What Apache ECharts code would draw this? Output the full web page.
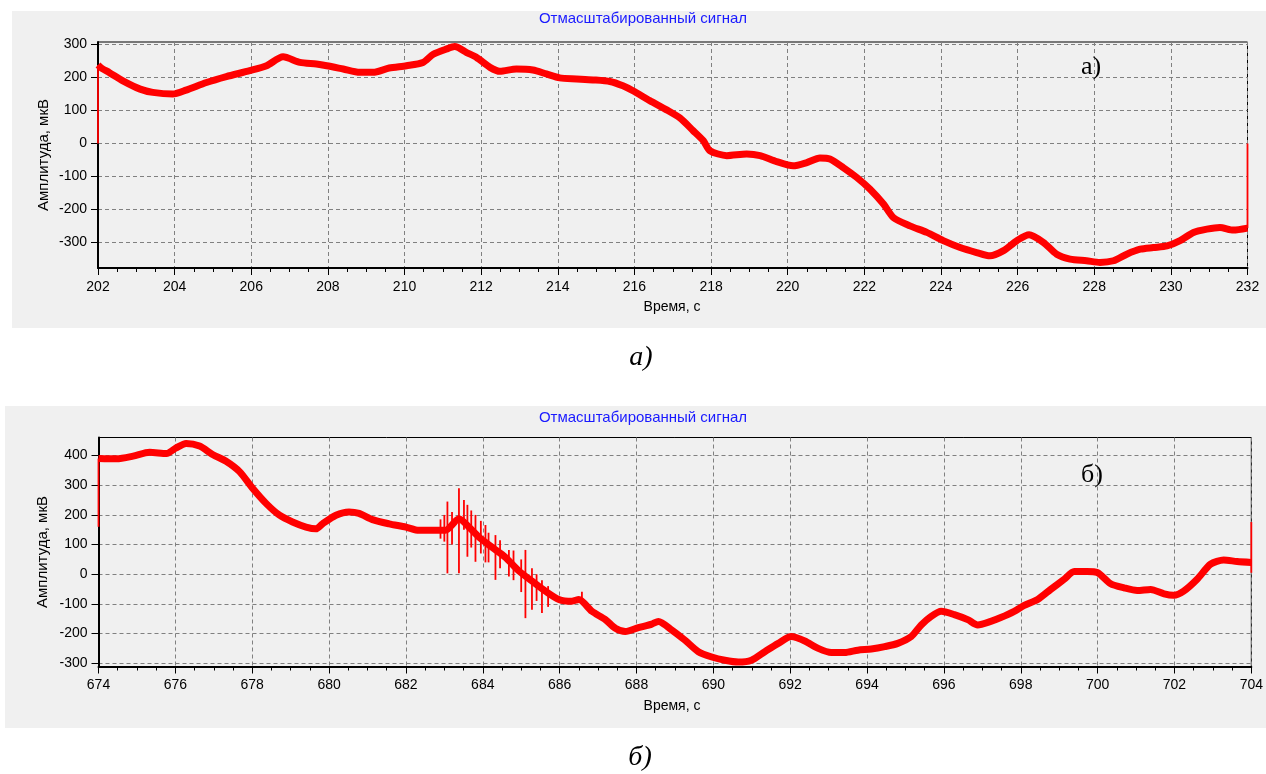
<!DOCTYPE html>
<html><head><meta charset="utf-8">
<script src="https://cdn.jsdelivr.net/npm/echarts@6/dist/echarts.min.js"></script>
<style>html,body{margin:0;padding:0;background:#fff}#c{width:1266px;height:774px}</style>
</head><body><div id="c"></div>
<script>
// ---- Panel a) ----
const timeA = [202, 202.1, 202.3, 202.65, 203.1, 203.43, 203.95, 204.3, 204.83, 205.35, 205.96, 206.4, 206.83, 207.27, 207.7, 207.97, 208.4, 208.83, 209.18, 209.6, 210.05, 210.48, 210.75, 211.1, 211.31, 211.62, 211.88, 212.23, 212.49, 212.92, 213.35, 213.7, 214.05, 214.49, 214.92, 215.36, 215.7, 215.96, 216.4, 216.84, 217.19, 217.53, 217.8, 217.97, 218.41, 218.93, 219.28, 219.71, 220.14, 220.5, 220.84, 221.1, 221.45, 221.8, 222.15, 222.5, 222.76, 223.19, 223.63, 224.06, 224.5, 224.93, 225.28, 225.62, 225.98, 226.3, 226.67, 227.02, 227.37, 227.8, 228.15, 228.5, 228.85, 229.2, 229.54, 229.9, 230.24, 230.59, 230.94, 231.28, 231.63, 232];
const ampA = [238, 228, 215, 190, 165, 155, 150, 162, 185, 203, 221, 236, 263, 246, 241, 236, 226, 216, 216, 229, 236, 246, 271, 287, 294, 276, 261, 231, 219, 226, 223, 211, 199, 196, 193, 188, 175, 160, 130, 102, 77, 39, 8, -22, -37, -32, -37, -55, -68, -58, -44, -47, -73, -103, -139, -184, -225, -250, -270, -295, -316, -331, -341, -326, -295, -277, -300, -336, -351, -356, -361, -356, -336, -321, -316, -311, -295, -270, -260, -255, -263, -257];
// vertical jumps (single-sample transitions at the record edges)
const jumpTimeA = [202, 232];
const jumpLowA = [0, -257];
const jumpHighA = [238, 0];
const yTicksA = [-300, -200, -100, 0, 100, 200, 300];

// ---- Panel б) ----
const timeB = [674, 674.47, 674.9, 675.33, 675.77, 676.02, 676.28, 676.63, 676.98, 677.32, 677.67, 678.01, 678.36, 678.71, 679.05, 679.4, 679.66, 679.83, 680.18, 680.52, 680.78, 681.13, 681.56, 682.0, 682.34, 682.69, 683.03, 683.38, 683.64, 683.9, 684.24, 684.59, 684.94, 685.28, 685.63, 685.98, 686.32, 686.5, 686.84, 687.19, 687.45, 687.71, 688.05, 688.4, 688.57, 688.92, 689.26, 689.61, 689.96, 690.3, 690.65, 690.99, 691.34, 691.69, 692.03, 692.38, 692.73, 693.07, 693.42, 693.76, 694.11, 694.46, 694.8, 695.15, 695.41, 695.67, 695.93, 696.27, 696.62, 696.88, 697.22, 697.48, 697.83, 698.09, 698.44, 698.78, 699.13, 699.39, 699.73, 699.99, 700.34, 700.69, 701.03, 701.38, 701.73, 701.98, 702.24, 702.59, 702.94, 703.28, 703.63, 704];
const ampB = [390, 389, 398, 411, 407, 426, 441, 432, 403, 381, 346, 290, 239, 199, 176, 159, 153, 170, 199, 210, 205, 184, 170, 159, 148, 148, 148, 187, 159, 125, 91, 57, 11, -23, -57, -85, -91, -85, -125, -153, -182, -193, -180, -168, -159, -188, -222, -261, -279, -290, -296, -290, -261, -233, -210, -225, -250, -264, -264, -256, -252, -244, -233, -210, -171, -142, -125, -136, -153, -171, -159, -146, -125, -105, -85, -51, -17, 9, 9, 6, -32, -46, -55, -51, -66, -71, -57, -17, 34, 48, 43, 40];
// impulse spikes and edge jumps: time, lower end, upper end
const jumpTimeB = [674, 682.9, 683.0, 683.08, 683.2, 683.38, 683.51, 683.6, 683.7, 683.81, 683.95, 684.07, 684.15, 684.33, 684.45, 684.68, 684.8, 685.0, 685.11, 685.28, 685.4, 685.54, 685.7, 686.58, 704];
const jumpLowB = [160, 120, 110, 3, 100, 3, 150, 59, 90, 42, 70, 40, 40, -19, 20, -8, -20, -60, -148, -120, -90, -131, -110, -100, 5];
const jumpHighB = [390, 185, 200, 245, 210, 290, 250, 234, 215, 200, 180, 166, 140, 132, 115, 82, 80, 50, 82, 20, 0, -20, -40, -59, 176];
const yTicksB = [-300, -200, -100, 0, 100, 200, 300, 400];

const titleText = 'Отмасштабированный сигнал';
const yName = 'Амплитуда, мкВ';
const xName = 'Время, с';

const zip = (t, v) => t.map((x, i) => [x, v[i]]);
const zip3 = (t, a, b) => t.map((x, i) => [x, a[i], b[i]]);
const FONT = '"Liberation Sans", Arial, sans-serif';
const SERIF = '"Liberation Serif", "Times New Roman", serif';
const RED = '#ff0000';

function xAxis(gi, min, max) {
  return {
    type: 'value', gridIndex: gi, min: min, max: max, interval: 2,
    axisLine: { show: true, onZero: false, lineStyle: { color: '#000', width: 2 } },
    axisTick: { show: true, length: 7, lineStyle: { color: '#000' } },
    minorTick: { show: true, splitNumber: 4, length: 4, lineStyle: { color: '#000' } },
    axisLabel: { color: '#000', fontSize: 14, fontFamily: FONT, margin: 12 },
    splitLine: { show: true, lineStyle: { color: '#808080', type: [4, 3], width: 1 } }
  };
}
function yAxis(gi, min, max, ticks) {
  return {
    type: 'value', gridIndex: gi, min: min, max: max,
    axisLine: { show: true, onZero: false, lineStyle: { color: '#000', width: 2 } },
    axisTick: { show: true, length: 7, customValues: ticks, lineStyle: { color: '#000' } },
    axisLabel: { customValues: ticks, color: '#000', fontSize: 14, fontFamily: FONT, margin: 11 },
    splitLine: { show: true, lineStyle: { color: '#808080', type: [4, 3], width: 1 } }
  };
}
function txt(x, y, text, font, fill, rot) {
  return { type: 'text', x: x, y: y, rotation: rot || 0, z: 10,
    style: { text: text, font: font, fill: fill || '#000', align: 'center', verticalAlign: 'middle' } };
}
function jumps(gi, data) {
  return {
    type: 'custom', xAxisIndex: gi, yAxisIndex: gi, data: data, z: 4, clip: false,
    renderItem: function (params, api) {
      const p1 = api.coord([api.value(0), api.value(1)]);
      const p2 = api.coord([api.value(0), api.value(2)]);
      return { type: 'line', shape: { x1: p1[0], y1: p1[1], x2: p2[0], y2: p2[1] },
        style: { stroke: RED, lineWidth: 1.8 } };
    }
  };
}

const chart = echarts.init(document.getElementById('c'));
chart.setOption({
  animation: false,
  backgroundColor: '#fff',
  grid: [
    { left: 98, top: 42, width: 1149.5, height: 226, show: true, borderColor: '#000', borderWidth: 1, backgroundColor: 'transparent' },
    { left: 98.5, top: 437.5, width: 1156, height: 229, show: true, borderColor: '#000', borderWidth: 1, backgroundColor: 'transparent' }
  ],
  xAxis: [xAxis(0, 202, 232), xAxis(1, 674, 704)],
  yAxis: [yAxis(0, -378, 308, yTicksA), yAxis(1, -311, 461, yTicksB)],
  graphic: [
    { type: 'rect', z: -10, shape: { x: 12, y: 11, width: 1254, height: 317 }, style: { fill: '#f0f0f0' } },
    { type: 'rect', z: -10, shape: { x: 5, y: 406, width: 1261, height: 322 }, style: { fill: '#f0f0f0' } },
    txt(643, 19, titleText, '15px ' + FONT, '#1a1aff'),
    txt(43.5, 155, yName, '15px ' + FONT, '#000', Math.PI / 2),
    txt(672, 307, xName, '14px ' + FONT),
    txt(1091, 67, 'а)', '26px ' + SERIF),
    txt(641, 358, 'а)', 'italic 28px ' + SERIF),
    txt(643, 418, titleText, '15px ' + FONT, '#1a1aff'),
    txt(43, 552, yName, '15px ' + FONT, '#000', Math.PI / 2),
    txt(672, 706, xName, '14px ' + FONT),
    txt(1092, 475, 'б)', '26px ' + SERIF),
    txt(640, 758, 'б)', 'italic 28px ' + SERIF)
  ],
  series: [
    { type: 'line', xAxisIndex: 0, yAxisIndex: 0, data: zip(timeA, ampA), showSymbol: false, smooth: 0.25,
      lineStyle: { color: RED, width: 7 }, z: 3 },
    jumps(0, zip3(jumpTimeA, jumpLowA, jumpHighA)),
    { type: 'line', xAxisIndex: 1, yAxisIndex: 1, data: zip(timeB, ampB), showSymbol: false, smooth: 0.25,
      lineStyle: { color: RED, width: 7 }, z: 3 },
    jumps(1, zip3(jumpTimeB, jumpLowB, jumpHighB))
  ]
});
</script>
</body></html>
